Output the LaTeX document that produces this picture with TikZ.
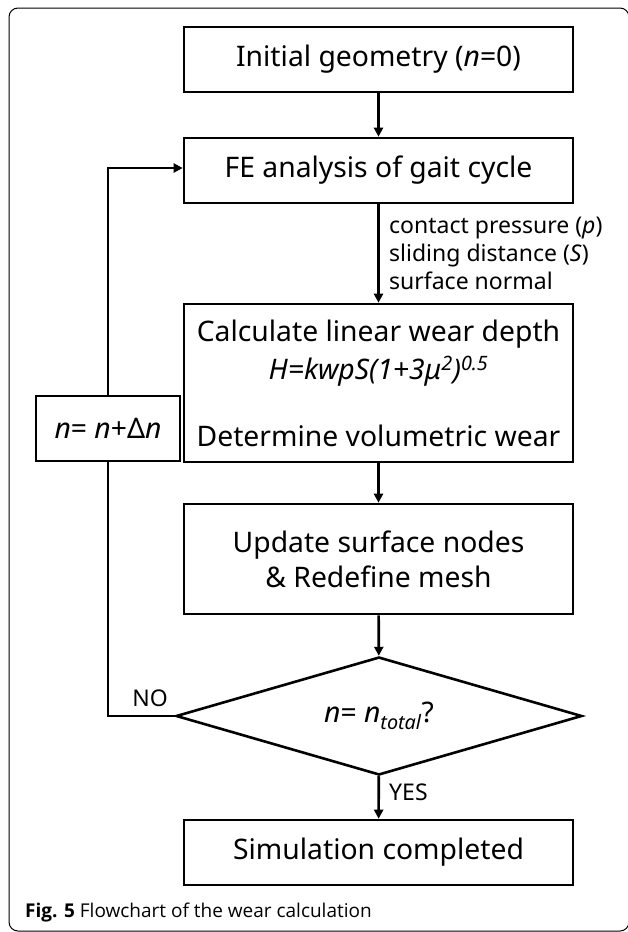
\documentclass[tikz,border=0pt]{standalone}
\usepackage{fontspec}
\setmainfont{Noto Sans}
\newfontfamily\figfont{Open Sans}
\usetikzlibrary{shapes.geometric,arrows.meta}
\tikzset{
  box/.style={draw, line width=2.6pt, minimum width=389pt, inner sep=0pt, align=center,
     font=\fontsize{28.3}{35}\selectfont},
  arr/.style={line width=2.6pt, -{Triangle[length=9pt,width=9pt]}},
  line/.style={line width=2.6pt},
  lbl/.style={font=\fontsize{23}{28}\selectfont, inner sep=0pt},
}
\begin{document}
\begin{tikzpicture}[x=1pt,y=-1pt]
\useasboundingbox (0,0) rectangle (627,932);
\draw[line width=1pt, rounded corners=9pt] (9,8) rectangle (629,931);

\node[box, minimum height=65pt] (b1) at (378.5,59.5) {Initial geometry (\textit{n}=0)};
\node[box, minimum height=65pt] (b2) at (378.5,170.5) {FE analysis of gait cycle};
\node[box, minimum height=158pt, font=\fontsize{28.3}{38}\selectfont] (b3) at (378.5,383)
  {Calculate linear wear depth\\ \textit{H=kwpS(1+3μ\textsuperscript{2})\textsuperscript{0.5}}\\[29pt] Determine volumetric wear};
\node[box, minimum height=110pt] (b4) at (378.5,559) {Update surface nodes\\ \& Redefine mesh};
\node[draw, line width=2.6pt, diamond, aspect=3.4, minimum width=406pt, minimum height=118pt,
      inner sep=0pt, font=\fontsize{28.3}{30}\selectfont] (dec) at (379,716)
  {\textit{n}= \textit{n\textsubscript{total}}?};
\node[box, minimum height=65pt] (b5) at (378.5,852.5) {Simulation completed};
\node[box, minimum width=144pt, minimum height=65pt] (loop) at (108,428.5) {\textit{n}= \textit{n}+Δ\textit{n}};

\draw[arr] (b1) -- (b2);
\draw[arr] (b2) -- (b3);
\node[lbl, anchor=north west, align=left] (params) at (389,217)
  {contact pressure (\textit{p})\\ sliding distance (\textit{S})\\ surface normal};
\draw[arr] (b3) -- (b4);
\draw[arr] (b4) -- (dec);
\draw[arr] (dec) -- (b5);
\node[lbl, anchor=west] (yes) at (389,792) {YES};
\draw[line] (dec.west) -| (loop.south);
\draw[arr] (loop.north) |- ([yshift=2.5pt]b2.west);
\node[lbl] (no) at (150,698) {NO};

\node[anchor=west, inner sep=0pt, font=\figfont\fontsize{19}{21}\selectfont] (cap) at (25,913)
  {\textbf{Fig. 5} Flowchart of the wear calculation};
\end{tikzpicture}
\end{document}
